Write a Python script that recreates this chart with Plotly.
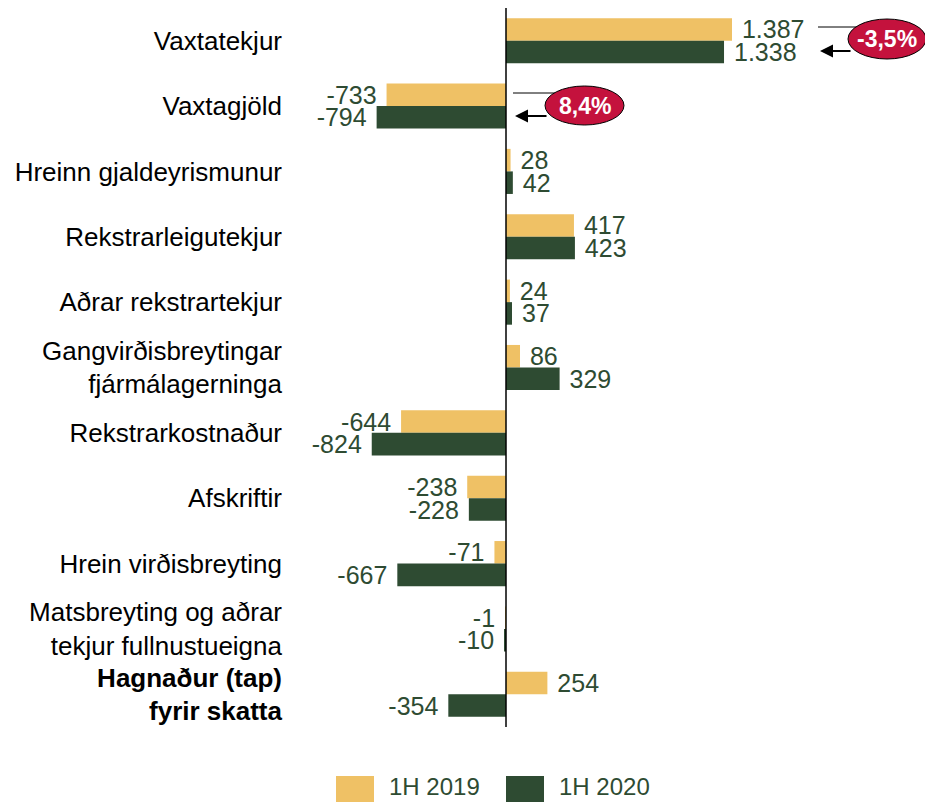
import plotly.graph_objects as go

categories = [
    "Vaxtatekjur",
    "Vaxtagjöld",
    "Hreinn gjaldeyrismunur",
    "Rekstrarleigutekjur",
    "Aðrar rekstrartekjur",
    "Gangvirðisbreytingar<br>fjármálagerninga",
    "Rekstrarkostnaður",
    "Afskriftir",
    "Hrein virðisbreyting",
    "Matsbreyting og aðrar<br>tekjur fullnustueigna",
    "<b>Hagnaður (tap)<br>fyrir skatta</b>",
]
values_2019 = [1387, -733, 28, 417, 24, 86, -644, -238, -71, -1, 254]
values_2020 = [1338, -794, 42, 423, 37, 329, -824, -228, -667, -10, -354]
series_names = ["1H 2019", "1H 2020"]
change_labels = ["-3,5%", "8,4%"]

YELLOW = "#EFC165"
GREEN = "#2E4B32"
LABEL = "#2E4B32"
RED = "#C4123D"
FONT = "Liberation Sans, Arial, sans-serif"


def fmt(v):
    s = f"{v:,}".replace(",", ".")
    return " " + s if v >= 0 else s + " "


fig = go.Figure()
for name, vals, col in [(series_names[0], values_2019, YELLOW), (series_names[1], values_2020, GREEN)]:
    fig.add_trace(go.Bar(
        y=categories, x=vals, name=name, orientation="h",
        marker=dict(color=col, line=dict(width=0)),
        text=[fmt(v) for v in vals], textposition="outside",
        constraintext="none",
        textfont=dict(size=25, color=LABEL, family=FONT),
        cliponaxis=False, showlegend=False,
    ))

# the page adds an 8px body margin; work in screen pixels and subtract it
OFF = 8
W, H = 933 - OFF, 802 - OFF
L, R, T, B = 290 - OFF, 4, 0, 794 - (727 - OFF)
pw, ph = W - L - R, H - T - B
scale = 226 / 1387.0
zero_px = 506 - OFF
xmin = -(zero_px - L) / scale
xmax = (W - R - zero_px) / scale


def px(x):
    return (x - OFF - L) / pw


def py(y):
    return (H - B - (y - OFF)) / ph


shapes = [
    dict(type="line", xref="x", yref="paper", x0=0, x1=0, y0=0, y1=py(8),
         line=dict(color="black", width=1.5)),
]
annotations = []

callouts = [
    # ellipse x0,x1,y0,y1 | thin line y,x0,x1 | arrow y, head x, tail x | text, size
    (848, 926, 19, 59, 27, 818, 860, 51, 820, 852, change_labels[0], 23),
    (545, 624, 86, 125, 93, 513, 555, 116, 515, 548, change_labels[1], 23),
]
for ex0, ex1, ey0, ey1, ty, tx0, tx1, ay, ahx, atx, txt, fs in callouts:
    shapes.append(dict(type="line", xref="paper", yref="paper",
                       x0=px(tx0), x1=px(tx1), y0=py(ty), y1=py(ty),
                       line=dict(color="black", width=1)))
    annotations.append(dict(xref="paper", yref="paper", x=px(ahx), y=py(ay),
                            ax=atx - ahx, ay=0, axref="pixel", ayref="pixel",
                            text="", showarrow=True, arrowhead=2, arrowsize=1.3,
                            arrowwidth=2, arrowcolor="black"))
    shapes.append(dict(type="circle", xref="paper", yref="paper",
                       x0=px(ex0), x1=px(ex1), y0=py(ey1), y1=py(ey0),
                       fillcolor=RED, line=dict(color="black", width=1)))
    annotations.append(dict(xref="paper", yref="paper",
                            x=px((ex0 + ex1) / 2), y=py((ey0 + ey1) / 2),
                            xanchor="center", yanchor="middle",
                            text=f"<b>{txt}</b>", showarrow=False,
                            font=dict(size=fs, color="white", family=FONT)))

for (sx0, sx1, tx, name, col) in [(336, 374, 387, series_names[0], YELLOW),
                                   (506, 544, 557, series_names[1], GREEN)]:
    shapes.append(dict(type="rect", xref="paper", yref="paper",
                       x0=px(sx0), x1=px(sx1), y0=py(802), y1=py(776),
                       fillcolor=col, line=dict(width=0)))
    annotations.append(dict(xref="paper", yref="paper", x=px(tx), y=py(787),
                            xanchor="left", yanchor="middle", text=name, showarrow=False,
                            font=dict(size=24, color=LABEL, family=FONT)))

fig.update_layout(
    width=W, height=H,
    margin=dict(l=L, r=R, t=T, b=B, pad=0),
    paper_bgcolor="white", plot_bgcolor="white",
    barmode="group", bargap=0.31, bargroupgap=0,
    font=dict(family=FONT, size=26, color="black"),
    xaxis=dict(range=[xmin, xmax], visible=False, showgrid=False, zeroline=False),
    yaxis=dict(autorange="reversed", showgrid=False, zeroline=False, showline=False,
               ticks="", ticklabelstandoff=7,
               tickfont=dict(size=26, color="black", family=FONT)),
    shapes=shapes, annotations=annotations,
    showlegend=False,
)

fig.write_html("out.html")
